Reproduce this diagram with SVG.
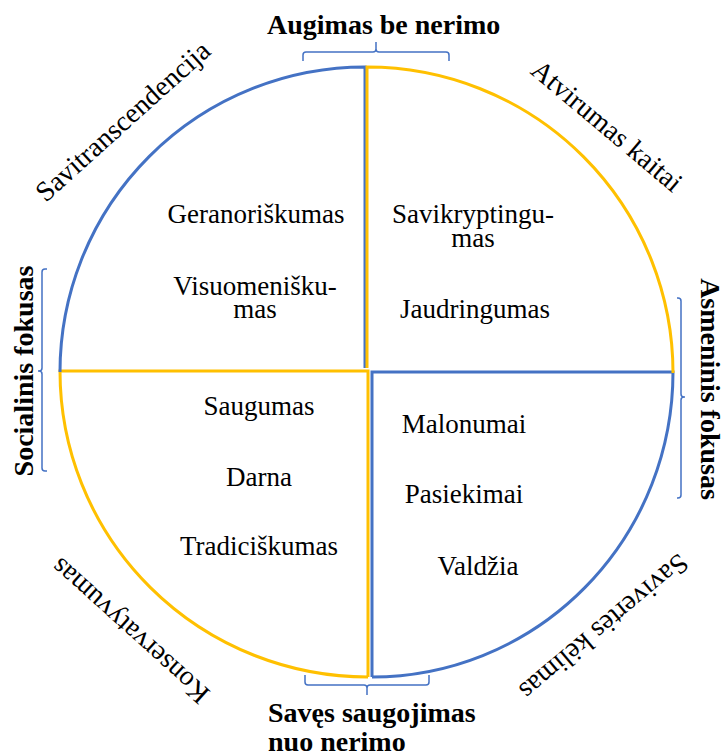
<svg xmlns="http://www.w3.org/2000/svg" width="722" height="756" viewBox="0 0 722 756">
  <style>
    .blue { fill: none; stroke: #4472C4; stroke-width: 3; }
    .yellow { fill: none; stroke: #FFC000; stroke-width: 3; }
    .brace { fill: none; stroke: #4472C4; stroke-width: 1.5; stroke-linejoin: round; }
    .t { font-family: "Liberation Serif", "Times New Roman", serif; font-size: 27px; fill: #000; text-anchor: middle; }
    .c { font-family: "Liberation Serif", "Times New Roman", serif; font-size: 28px; fill: #000; text-anchor: middle; }
    .b { font-family: "Liberation Serif", "Times New Roman", serif; font-size: 28px; font-weight: bold; fill: #000; }
  </style>
  <rect width="722" height="756" fill="#fff"/>

  <g id="connectors">
    <path id="brace-top" class="brace" d="M303,61 V55 Q303,52 306,52 H373 Q376,52 376,49 V42 M376,49 Q376,52 379,52 H446 Q449,52 449,55 V61"/>
    <path id="brace-bottom" class="brace" d="M305,675 V682 Q305,685 308,685 H364 Q367,685 367,688 V695 M367,688 Q367,685 370,685 H426 Q429,685 429,682 V675"/>
    <path id="brace-left" class="brace" d="M47,269 H45 Q42,269 42,272 V368 Q42,371 39,371 H38 M39,371 Q42,371 42,374 V468 Q42,471 45,471 H47"/>
    <path id="brace-right" class="brace" d="M677,298 H678 Q681,298 681,301 V394 Q681,397 684,397 H685 M684,397 Q681,397 681,400 V495 Q681,498 678,498 H677"/>
  </g>

  <g id="q-bottom-left">
    <path class="yellow" d="M368,677 V371 H60 A308,306 0 0 0 368,677"/>
    <text class="t" x="259" y="415">Saugumas</text>
    <text class="t" x="259" y="486">Darna</text>
    <text class="t" x="259" y="555">Tradiciškumas</text>
  </g>
  <g id="q-bottom-right">
    <path class="blue" d="M372,677 V372 H673 A301,305 0 0 1 372,677"/>
    <text class="t" x="464" y="433">Malonumai</text>
    <text class="t" x="464" y="503">Pasiekimai</text>
    <text class="t" x="478" y="575">Valdžia</text>
  </g>
  <g id="q-top-left">
    <path class="blue" d="M365,368 V67 A305,305 0 0 0 60,372"/>
    <text class="t" x="256" y="223">Geranoriškumas</text>
    <text class="t" x="255" y="295">Visuomenišku-</text>
    <text class="t" x="255" y="318">mas</text>
  </g>
  <g id="q-top-right">
    <path class="yellow" d="M367,368 V67 A306,306 0 0 1 673,373"/>
    <text class="t" x="473" y="223">Savikryptingu-</text>
    <text class="t" x="473" y="247">mas</text>
    <text class="t" x="475" y="318">Jaudringumas</text>
  </g>

  <g id="label-savitranscendencija">
    <text class="c" transform="translate(129,128) rotate(-42)">Savitranscendencija</text>
  </g>
  <g id="label-atvirumas">
    <text class="c" transform="translate(601,133) rotate(40)">Atvirumas kaitai</text>
  </g>
  <g id="label-konservatyvumas">
    <text class="c" transform="translate(136,624) rotate(222)">Konservatyvumas</text>
  </g>
  <g id="label-savivertes">
    <text class="c" transform="translate(598,620) rotate(140)">Savivertės kėlimas</text>
  </g>

  <g id="axis-top">
    <text class="b" x="267" y="34">Augimas be nerimo</text>
  </g>
  <g id="axis-bottom">
    <text class="b" x="268" y="722">Savęs saugojimas</text>
    <text class="b" x="268" y="751">nuo nerimo</text>
  </g>
  <g id="axis-left">
    <text class="b" text-anchor="middle" transform="translate(33,371) rotate(-90)">Socialinis fokusas</text>
  </g>
  <g id="axis-right">
    <text class="b" text-anchor="middle" transform="translate(701,389) rotate(90)">Asmeninis fokusas</text>
  </g>
</svg>
